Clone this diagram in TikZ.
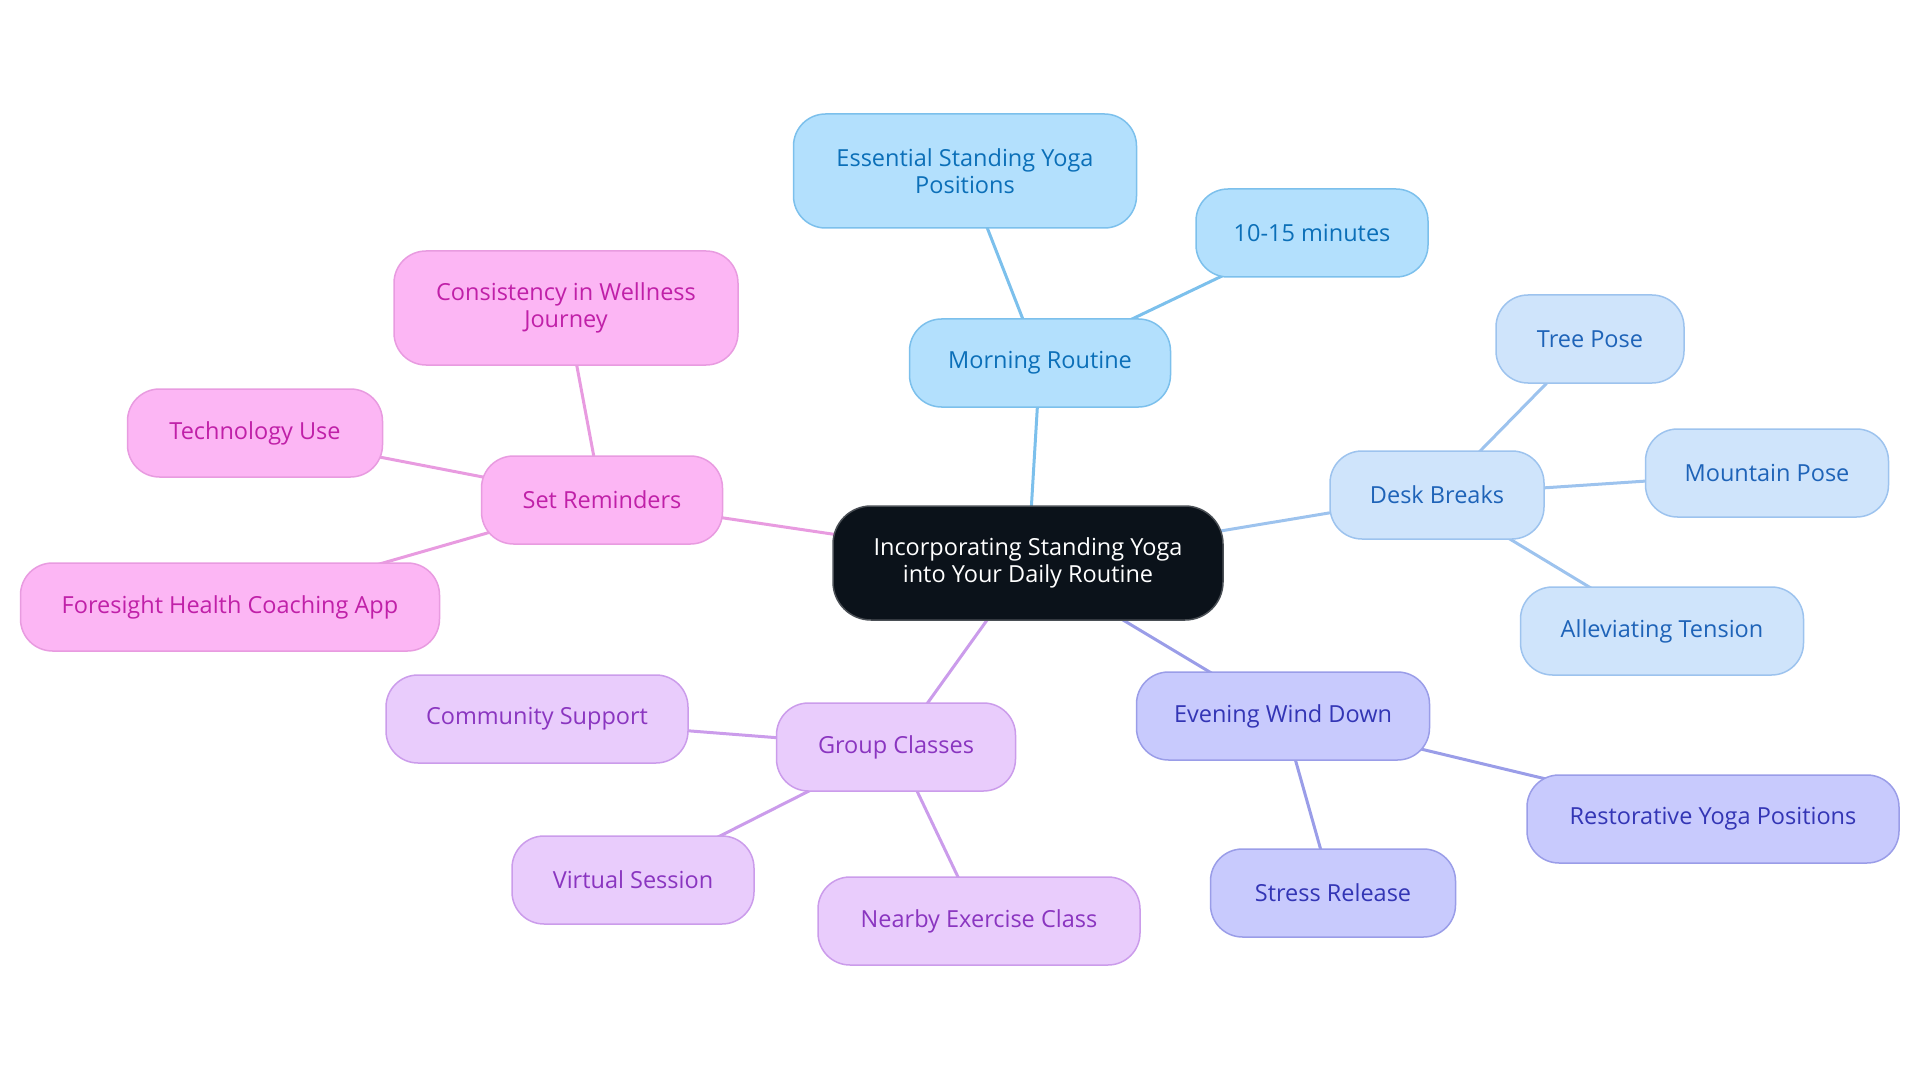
\documentclass[tikz,border=0pt]{standalone}
\usepackage{fontspec}
\setmainfont{Open Sans}
\pgfdeclarelayer{background}
\pgfsetlayers{background,main}
\definecolor{cdark}{HTML}{0B121A}
\definecolor{cdarkb}{HTML}{4A4F55}
\definecolor{bfill}{HTML}{B3E0FD}
\definecolor{bdraw}{HTML}{7CC0EC}
\definecolor{btext}{HTML}{0B6FB8}
\definecolor{lfill}{HTML}{CFE4FB}
\definecolor{ldraw}{HTML}{9DC3EE}
\definecolor{ltext}{HTML}{1E63B8}
\definecolor{ifill}{HTML}{C8CAFD}
\definecolor{idraw}{HTML}{9A9DE8}
\definecolor{itext}{HTML}{3335B5}
\definecolor{vfill}{HTML}{E9CCFC}
\definecolor{vdraw}{HTML}{CB9CEB}
\definecolor{vtext}{HTML}{8A35C0}
\definecolor{pfill}{HTML}{FCB6F4}
\definecolor{pdraw}{HTML}{E89BE0}
\definecolor{ptext}{HTML}{C020A8}
\tikzset{
  box/.style={rectangle, rounded corners=32pt, line width=1.5pt, align=center,
    font=\fontsize{23.5}{27}\selectfont, inner sep=0pt, minimum height=88pt},
  rootbox/.style={box, fill=cdark, draw=cdarkb, text=white, rounded corners=38pt},
  bluebox/.style={box, fill=bfill, draw=bdraw, text=btext},
  lbluebox/.style={box, fill=lfill, draw=ldraw, text=ltext},
  indbox/.style={box, fill=ifill, draw=idraw, text=itext},
  lavbox/.style={box, fill=vfill, draw=vdraw, text=vtext},
  pinkbox/.style={box, fill=pfill, draw=pdraw, text=ptext},
  link/.style={line width=3pt},
}
\begin{document}
\begin{tikzpicture}[x=1pt,y=-1pt]
\useasboundingbox (0,0) rectangle (1920,1083);
\node[rootbox, minimum width=390pt, minimum height=114pt] (root) at (1028,563) {Incorporating Standing Yoga\\into Your Daily Routine};

\node[bluebox, minimum width=261pt] (morning) at (1040,363) {Morning Routine};
\node[bluebox, minimum width=343pt, minimum height=114pt] (essential) at (965,171) {Essential Standing Yoga\\Positions};
\node[bluebox, minimum width=232pt] (minutes) at (1312,233) {10-15 minutes};

\node[lbluebox, minimum width=214pt] (desk) at (1437,495) {Desk Breaks};
\node[lbluebox, minimum width=188pt] (tree) at (1590,339) {Tree Pose};
\node[lbluebox, minimum width=243pt] (mountain) at (1767,473) {Mountain Pose};
\node[lbluebox, minimum width=283pt] (tension) at (1662,631) {Alleviating Tension};

\node[indbox, minimum width=293pt] (evening) at (1283,716) {Evening Wind Down};
\node[indbox, minimum width=372pt] (restor) at (1713,819) {Restorative Yoga Positions};
\node[indbox, minimum width=245pt] (stress) at (1333,893) {Stress Release};

\node[lavbox, minimum width=239pt] (group) at (896,747) {Group Classes};
\node[lavbox, minimum width=302pt] (community) at (537,719) {Community Support};
\node[lavbox, minimum width=242pt] (virtual) at (633,880) {Virtual Session};
\node[lavbox, minimum width=322pt] (nearby) at (979,921) {Nearby Exercise Class};

\node[pinkbox, minimum width=241pt] (remind) at (602,500) {Set Reminders};
\node[pinkbox, minimum width=344pt, minimum height=114pt] (consist) at (566,308) {Consistency in Wellness\\Journey};
\node[pinkbox, minimum width=255pt] (tech) at (255,433) {Technology Use};
\node[pinkbox, minimum width=419pt] (foresight) at (230,607) {Foresight Health Coaching App};

\begin{pgfonlayer}{background}
\draw[link, draw=bdraw] (root.center) -- (morning.center);
\draw[link, draw=bdraw] (morning.center) -- (essential.center);
\draw[link, draw=bdraw] (morning.center) -- (minutes.center);
\draw[link, draw=ldraw] (root.center) -- (desk.center);
\draw[link, draw=ldraw] (desk.center) -- (tree.center);
\draw[link, draw=ldraw] (desk.center) -- (mountain.center);
\draw[link, draw=ldraw] (desk.center) -- (tension.center);
\draw[link, draw=idraw] (root.center) -- (evening.center);
\draw[link, draw=idraw] (evening.center) -- (restor.center);
\draw[link, draw=idraw] (evening.center) -- (stress.center);
\draw[link, draw=vdraw] (root.center) -- (group.center);
\draw[link, draw=vdraw] (group.center) -- (community.center);
\draw[link, draw=vdraw] (group.center) -- (virtual.center);
\draw[link, draw=vdraw] (group.center) -- (nearby.center);
\draw[link, draw=pdraw] (root.center) -- (remind.center);
\draw[link, draw=pdraw] (remind.center) -- (consist.center);
\draw[link, draw=pdraw] (remind.center) -- (tech.center);
\draw[link, draw=pdraw] (remind.center) -- (foresight.center);
\end{pgfonlayer}
\end{tikzpicture}
\end{document}
